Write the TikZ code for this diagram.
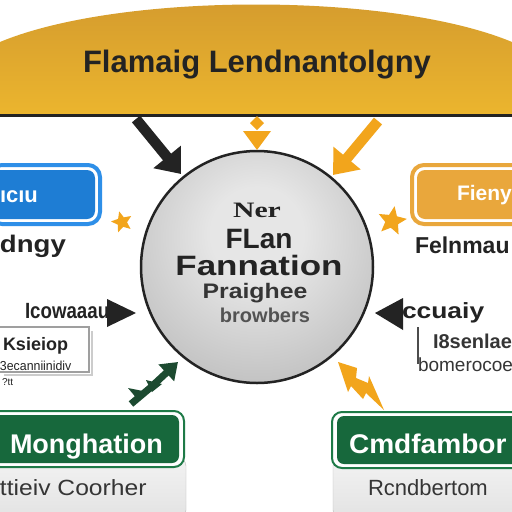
\documentclass[tikz,border=0pt]{standalone}
\usepackage{fontspec}
\setmainfont{Liberation Sans}
\newfontfamily\serifb{Liberation Serif}
\usetikzlibrary{arrows.meta,shapes.geometric}
\definecolor{gold1}{HTML}{D39A2E}
\definecolor{gold2}{HTML}{EBB52E}
\definecolor{ink}{HTML}{232323}
\definecolor{blueF}{HTML}{1E7DD4}
\definecolor{blueB}{HTML}{2E8FE8}
\definecolor{orng}{HTML}{F2A51C}
\definecolor{orngbox}{HTML}{E9A73C}
\definecolor{grnF}{HTML}{17683C}
\definecolor{grnB}{HTML}{1E7A47}
\definecolor{grnD}{HTML}{1C4A30}
\definecolor{hubin}{HTML}{E6E6E6}
\definecolor{hubout}{HTML}{A2A2A2}
\definecolor{txtgray}{HTML}{353535}
\pgfdeclareradialshading{hubshade}{\pgfpoint{0bp}{8bp}}{color(0bp)=(hubin); color(10bp)=(hubin); color(50bp)=(hubout); color(100bp)=(hubout)}
\newcommand{\fsz}[1]{\fontsize{#1}{#1}\selectfont}
\begin{document}
\begin{tikzpicture}[x=1pt,y=-1pt,
  txt/.style={inner sep=0pt, outer sep=0pt, anchor=base},
  txtw/.style={inner sep=0pt, outer sep=0pt, anchor=base west},
  bigarrow/.style={line width=10.5pt, -{Triangle[length=22pt,width=34pt]}},
  starshape/.style={star, star points=5, star point ratio=2.2, fill=orng, inner sep=0pt}]
\useasboundingbox (0,0) rectangle (512,512);
\clip (0,0) rectangle (512,512);
\fill[white] (0,0) rectangle (512,512);

% banner
\shade[top color=gold1, bottom color=gold2] (0,42) .. controls (120,-8) and (392,-8) .. (512,42) -- (512,114) -- (0,114) -- cycle;
\fill[ink] (0,114) rectangle (512,117);
\node[txt, font=\bfseries\fsz{31}, text=ink] (title) at (257,72) {Flamaig Lendnantolgny};

% hub
\node[circle, draw=ink, line width=2.5pt, minimum size=232pt, inner sep=0pt, shading=hubshade] (hub) at (257,267) {};
\node[txt, font=\serifb\bfseries\fsz{22}, text=ink, xscale=1.35] (t1) at (257,217) {Ner};
\node[txt, font=\bfseries\fsz{28}, text=ink] (t2) at (259,248) {FLan};
\node[txt, font=\bfseries\fsz{28}, text=ink, xscale=1.25] (t3) at (259,275) {Fannation};
\node[txt, font=\bfseries\fsz{21}, text=txtgray, xscale=1.18] (t4) at (255,298) {Praighee};
\node[txt, font=\bfseries\fsz{20}, text=txtgray!85] (t5) at (265,322) {browbers};

% top arrows
\coordinate (a1s) at (136,119);
\coordinate (a1e) at (181,174);
\draw[ink, bigarrow] (a1s) -- (a1e);
\coordinate (a3s) at (378,121);
\coordinate (a3e) at (333,175);
\draw[orng, bigarrow] (a3s) -- (a3e);
\coordinate (a2e) at (257,150);
\fill[orng] (257,116) -- (264,123) -- (257,130) -- (250,123) -- cycle;
\fill[orng] (243,131) -- (271,131) -- (a2e) -- cycle;

% left side
\draw[fill=white, draw=blueB, line width=4pt, rounded corners=12pt] (-10,165) rectangle (100,224);
\fill[blueF, rounded corners=8pt] (-10,170) rectangle (95,219);
\node[txtw, font=\bfseries\fsz{22}, text=white] (bl) at (0,202) {ıcıu};
\node[txtw, font=\bfseries\fsz{24}, text=ink, xscale=1.15] (dn) at (0,252) {dngy};
\node[starshape, minimum size=22pt, rotate=15] (s1) at (122,222) {};
\node[txtw, font=\bfseries\fsz{22}, text=ink, xscale=0.85] (ic) at (25,318) {Icowaaau};
\coordinate (lh1) at (107,299);
\coordinate (lh2) at (107,327);
\coordinate (lh3) at (136,313);
\fill[ink] (lh1) -- (lh3) -- (lh2) -- cycle;
\draw[gray!40, line width=2pt] (92,331) -- (92,375) -- (4,375);
\draw[gray!75, line width=1.2pt] (-3,327) rectangle (89,372);
\node[txtw, font=\bfseries\fsz{18}, text=ink] (ks) at (3,350) {Ksieiop};
\node[txtw, font=\fsz{13}, text=ink, xscale=0.95] (kc) at (0,370) {3ecanniinidiv};
\node[txtw, font=\fsz{10}, text=ink] (kq) at (2,385) {?tt};

% green lightning arrow
\coordinate (g1) at (131,404);
\coordinate (g2) at (150,388);
\coordinate (g3) at (178,362);
\draw[grnD, line width=7pt, -{Triangle[length=16pt,width=22pt]}] (g1) -- (g2) -- (g3);
\fill[grnD] (128,388) -- (148,392) -- (138,400) -- cycle;
\fill[grnD] (146,380) -- (162,384) -- (152,392) -- cycle;

% right side
\draw[fill=white, draw=orngbox, line width=4pt, rounded corners=12pt] (412,165) rectangle (525,224);
\fill[orngbox, rounded corners=8pt] (417,170) rectangle (525,219);
\node[txtw, font=\bfseries\fsz{21}, text=white] (fi) at (457,200) {Fieny};
\node[txtw, font=\bfseries\fsz{23}, text=ink] (fe) at (415,253) {Felnmau};
\node[starshape, minimum size=30pt, rotate=-10] (s2) at (392,221) {};
\coordinate (rh1) at (403,298);
\coordinate (rh2) at (403,330);
\coordinate (rh3) at (375,313);
\fill[ink] (rh1) -- (rh3) -- (rh2) -- cycle;
\node[txtw, font=\bfseries\fsz{22}, text=ink, xscale=1.2] (cc) at (402,318) {ccuaiy};
\draw[gray!60!black, line width=2pt] (418,327) -- (418,364);
\node[txtw, font=\bfseries\fsz{20}, text=txtgray] (i8) at (433,348) {I8senlae};
\node[txtw, font=\fsz{19}, text=txtgray] (bo) at (418,371) {bomerocoe};

% orange lightning
\fill[orng] (338,362) -- (357,368) -- (356,378) -- (368,383) -- (369,376) -- (384,410) -- (366,393) -- (363,399) -- (351,386) -- (348,392) -- cycle;

% bottom left
\shade[top color=gray!10, bottom color=gray!22, draw=gray!55, rounded corners=8pt] (-10,458) rectangle (186,518);
\draw[fill=white, draw=grnB, line width=2pt, rounded corners=10pt] (-10,411) rectangle (184,467);
\fill[grnF, rounded corners=7pt] (-10,415) rectangle (179,463);
\node[txtw, font=\bfseries\fsz{27}, text=white] (mo) at (10,453) {Monghation};
\node[txtw, font=\fsz{22}, text=txtgray, xscale=1.12] (co) at (0,495) {ttieiv Coorher};

% bottom right
\shade[top color=gray!10, bottom color=gray!22, draw=gray!55, rounded corners=8pt] (333,458) rectangle (530,518);
\draw[fill=white, draw=grnB, line width=2pt, rounded corners=10pt] (332,412) rectangle (530,468);
\fill[grnF, rounded corners=7pt] (337,416) rectangle (530,464);
\node[txtw, font=\bfseries\fsz{27}, text=white, xscale=1.04] (cm) at (349,453) {Cmdfambor};
\node[txtw, font=\fsz{22}, text=txtgray] (rc) at (368,495) {Rcndbertom};
\end{tikzpicture}
\end{document}
